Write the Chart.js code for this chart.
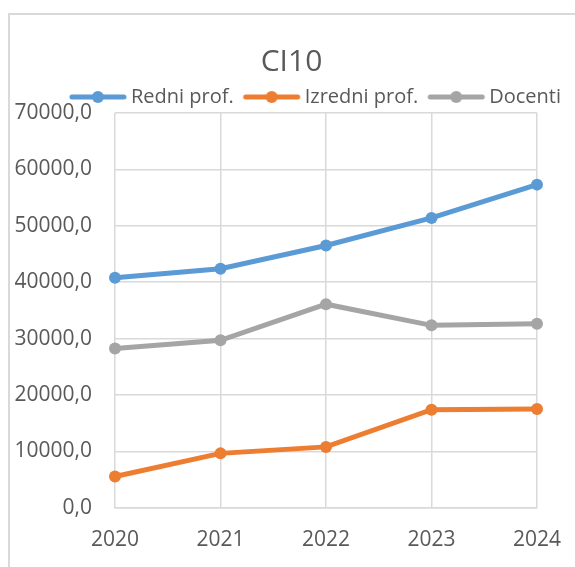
<!DOCTYPE html>
<html>
<head>
<meta charset="utf-8">
<script src="https://cdn.jsdelivr.net/npm/chart.js@4"></script>
<style>
  html, body { margin: 0; padding: 0; background: #fff; overflow: hidden; }
  #frame { position: absolute; left: 8px; top: 13px; width: 700px; height: 700px;
           border-left: 2px solid #d9d9d9; border-top: 2px solid #d9d9d9; }
  #wrap { position: absolute; left: 0; top: 0; width: 575px; height: 567px; }
</style>
</head>
<body>
<div id="frame"></div>
<div id="wrap"><canvas id="chart"></canvas></div>
<script>
const years = ['2020', '2021', '2022', '2023', '2024'];
const redniProf = [40800, 42400, 46500, 51400, 57300];
const izredniProf = [5550, 9650, 10800, 17400, 17500];
const docenti = [28250, 29700, 36100, 32350, 32650];
const yTicks = [0, 10000, 20000, 30000, 40000, 50000, 60000, 70000];

const blue = '#5b9bd5';
const orange = '#ed7d31';
const gray = '#a5a5a5';
const textColor = '#595959';
const gridColor = '#d9d9d9';

Chart.defaults.font.family = "'Open Sans', sans-serif";
Chart.defaults.color = textColor;

// legend marker: short thick line with a dot, shifted inside a wider canvas
// so the gaps around it come out like Excel's legend
const legendMarker = (color) => {
    const c = document.createElement('canvas');
    c.width = 100;
    c.height = 14;
    const g = c.getContext('2d');
    const x0 = 26;
    g.strokeStyle = color;
    g.lineWidth = 5;
    g.lineCap = 'round';
    g.beginPath();
    g.moveTo(x0 + 2, 7);
    g.lineTo(x0 + 54, 7);
    g.stroke();
    g.fillStyle = color;
    g.beginPath();
    g.arc(x0 + 28, 7, 6, 0, Math.PI * 2);
    g.fill();
    return c;
};

const series = (label, data, color) => ({
    label: label,
    data: data,
    borderColor: color,
    backgroundColor: color,
    borderWidth: 5,
    pointRadius: 6,
    pointBorderWidth: 0,
    pointBackgroundColor: color,
    pointHoverRadius: 6,
    fill: false,
    tension: 0,
    marker: legendMarker(color),
});

new Chart(document.getElementById('chart'), {
    type: 'line',
    data: {
        labels: years,
        datasets: [
            series('Redni prof.', redniProf, blue),
            series('Izredni prof.', izredniProf, orange),
            series('Docenti', docenti, gray),
        ],
    },
    options: {
        responsive: true,
        maintainAspectRatio: false,
        animation: false,
        events: [],
        layout: {
            padding: { left: 15, right: 7, top: 0, bottom: 14 },
        },
        plugins: {
            title: {
                display: true,
                text: 'CI10',
                color: textColor,
                font: { size: 30, weight: 'normal' },
                padding: { top: 44, bottom: 0 },
            },
            legend: {
                position: 'top',
                align: 'end',
                maxHeight: 33,
                labels: {
                    usePointStyle: true,
                    pointStyleWidth: 54,
                    padding: 7,
                    color: textColor,
                    font: { size: 20 },
                    generateLabels: (chart) => {
                        const items = Chart.defaults.plugins.legend.labels.generateLabels(chart);
                        items.forEach(item => {
                            item.pointStyle = chart.data.datasets[item.datasetIndex].marker;
                        });
                        return items;
                    },
                },
            },
            tooltip: { enabled: false },
        },
        scales: {
            x: {
                type: 'category',
                offset: false,
                grid: {
                    color: gridColor,
                    lineWidth: 1.5,
                    offset: false,
                    drawTicks: true,
                    tickLength: 20,
                    tickColor: 'rgba(0,0,0,0)',
                },
                border: { color: gridColor, width: 1.5 },
                ticks: { padding: 0, color: textColor, font: { size: 21 }, maxRotation: 0 },
            },
            y: {
                min: 0,
                max: 70000,
                afterBuildTicks: (scale) => {
                    scale.ticks = yTicks.map(v => ({ value: v }));
                },
                afterFit: (scale) => {
                    scale.width = 100;
                },
                grid: { color: gridColor, lineWidth: 1.5, drawTicks: false },
                border: { display: false },
                ticks: {
                    padding: 23,
                    color: textColor,
                    font: { size: 21 },
                    callback: (v) => v.toFixed(1).replace('.', ','),
                },
            },
            // empty right-hand axis, only keeps room on the right like Excel
            yRight: {
                position: 'right',
                grid: { display: false },
                border: { display: false },
                ticks: { display: false },
                afterFit: (scale) => {
                    scale.width = 31;
                },
            },
        },
    },
});
</script>
</body>
</html>
